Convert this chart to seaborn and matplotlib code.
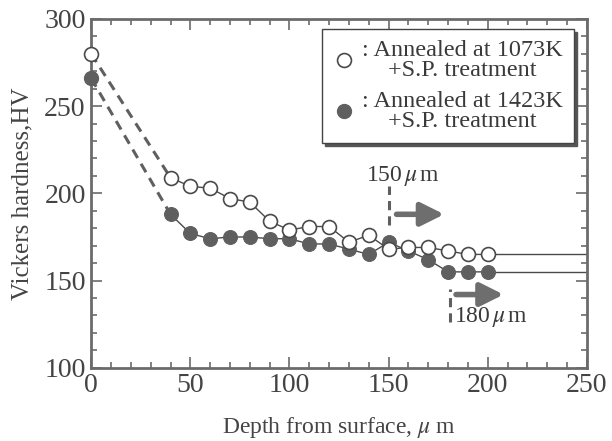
import numpy as np
import pandas as pd
import matplotlib
matplotlib.use("Agg")
import matplotlib.pyplot as plt
import seaborn as sns
from matplotlib.ticker import MultipleLocator

# ── Data ────────────────────────────────────────────────────────────────────
depth = [40, 50, 60, 70, 80, 90, 100, 110, 120, 130, 140, 150, 160, 170, 180, 190, 200]
hv_1073 = [209, 204, 203, 197, 195, 184, 179, 181, 181, 172, 176, 168, 169, 169, 167, 165, 165]
hv_1423 = [188, 177, 174, 175, 175, 174, 174, 171, 171, 168, 165, 172, 167, 162, 155, 155, 155]
surface_1073 = 280
surface_1423 = 266
x_end = 250

label_1073 = ": Annealed at 1073K\n+S.P. treatment"
label_1423 = ": Annealed at 1423K\n+S.P. treatment"

# boundary markers: depth, dash y-range, arrow y, label
bound_150 = dict(x=150, y0=182, y1=204, arrow_y=188, text="150$\\,\\mu\\,$m")
bound_180 = dict(x=181, y0=126, y1=145, arrow_y=142, text="180$\\,\\mu\\,$m")

# ── Style ───────────────────────────────────────────────────────────────────
sns.set_style("ticks")
plt.rcParams["font.family"] = ["Liberation Serif", "DejaVu Serif"]
plt.rcParams["mathtext.fontset"] = "stix"

GREY = "#5f5f5f"
EDGE = "#4a4a4a"
SPINE = "#6b6b6b"
TEXT = "#3a3a3a"

fig, ax = plt.subplots(figsize=(6.12, 4.41), dpi=100)
fig.subplots_adjust(left=0.149, right=0.959, top=0.957, bottom=0.166)

df = pd.DataFrame({"depth": depth, "hv_1073": hv_1073, "hv_1423": hv_1423})

# dashed links from the surface values
ax.plot([0, depth[0]], [surface_1073, hv_1073[0]], ls=(0, (3.2, 2.2)), lw=2.2, color=GREY, zorder=1)
ax.plot([0, depth[0]], [surface_1423, hv_1423[0]], ls=(0, (3.2, 2.2)), lw=2.2, color=GREY, zorder=1)

# extension to the right edge
ax.plot([depth[-1], x_end], [hv_1073[-1], hv_1073[-1]], lw=1.0, color=EDGE, zorder=1)
ax.plot([depth[-1], x_end], [hv_1423[-1], hv_1423[-1]], lw=1.0, color=EDGE, zorder=1)

sns.lineplot(data=df, x="depth", y="hv_1423", ax=ax, color=EDGE, lw=1.0,
             marker="o", markersize=10, markerfacecolor=GREY, markeredgecolor=GREY,
             zorder=3)
sns.lineplot(data=df, x="depth", y="hv_1073", ax=ax, color=EDGE, lw=1.0,
             marker="o", markersize=10, markerfacecolor="white", markeredgecolor=EDGE,
             markeredgewidth=1.2, zorder=4)

# surface points
ax.plot([0], [surface_1423], "o", ms=10, mfc=GREY, mec=GREY, zorder=5, clip_on=False)
ax.plot([0], [surface_1073], "o", ms=10, mfc="white", mec=EDGE, mew=1.2, zorder=5, clip_on=False)

# boundary annotations
for b, dx, tx, ty, ha in [(bound_150, (154, 178), 157, 210, "center"),
                          (bound_180, (184, 208), 183, 129, "left")]:
    ax.plot([b["x"], b["x"]], [b["y0"], b["y1"]], ls=(0, (3, 2)), lw=2.2, color=GREY, zorder=2)
    ax.annotate("", xy=(dx[1], b["arrow_y"]), xytext=(dx[0], b["arrow_y"]),
                arrowprops=dict(arrowstyle="-|>,head_length=1.4,head_width=0.7",
                                lw=4, color="#6e6e6e", shrinkA=0, shrinkB=0))
    ax.text(tx, ty, b["text"], ha=ha, va="center", fontsize=17, color=TEXT)

# legend
h1 = plt.Line2D([], [], ls="none", marker="o", ms=10, mfc="white", mec=EDGE, mew=1.2)
h2 = plt.Line2D([], [], ls="none", marker="o", ms=10, mfc=GREY, mec=GREY)
leg = ax.legend([h1, h2], [label_1073, label_1423], loc="upper right",
                bbox_to_anchor=(0.974, 0.971), borderaxespad=0, fontsize=17.5,
                handlelength=0.9, handletextpad=0.3, labelspacing=0.4,
                borderpad=0.45, fancybox=False, frameon=True,
                shadow={"color": "#555555", "alpha": 1.0})
leg.get_frame().set_edgecolor("#444444")
leg.get_frame().set_linewidth(1.0)
for t in leg.get_texts():
    t.set_multialignment("center")
    t.set_linespacing(0.95)
    t.set_color(TEXT)

# axes
ax.set_xlim(0, 250)
ax.set_ylim(100, 300)
ax.xaxis.set_major_locator(MultipleLocator(50))
ax.xaxis.set_minor_locator(MultipleLocator(10))
ax.yaxis.set_major_locator(MultipleLocator(50))
ax.yaxis.set_minor_locator(MultipleLocator(10))
ax.tick_params(which="both", direction="in", top=True, right=True, color=SPINE,
               labelsize=20, labelcolor="#444444", width=1.2)
ax.tick_params(which="major", length=8)
ax.tick_params(axis="y", which="major", pad=4)
ax.tick_params(axis="x", which="major", pad=4)
ax.tick_params(which="minor", length=4)
for s in ax.spines.values():
    s.set_color(SPINE)
    s.set_linewidth(2)

ax.set_xlabel("Depth from surface, $\\mu$ m", fontsize=17, color="#444444", labelpad=12)
ax.set_ylabel("Vickers hardness,HV", fontsize=18, color="#444444", labelpad=8)

plt.savefig("out.png", dpi=100)
